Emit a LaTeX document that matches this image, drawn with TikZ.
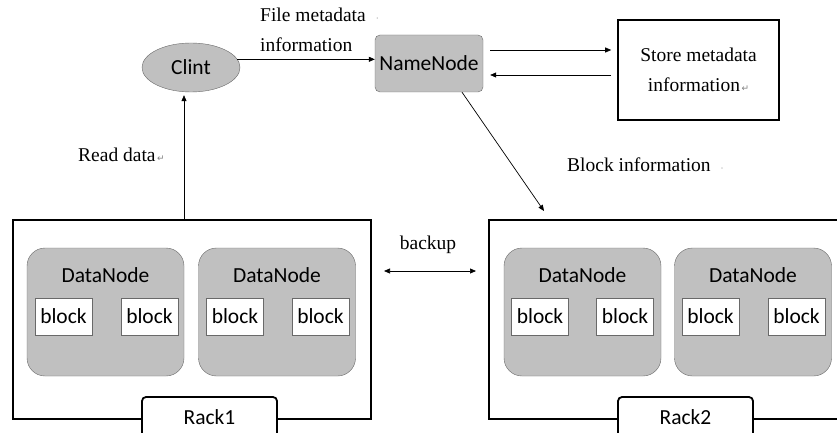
\documentclass[tikz,border=0pt]{standalone}
\usepackage{fontspec}
\setmainfont{Liberation Serif}
\newfontfamily\uifont{Carlito}
\newfontfamily\markfont{DejaVu Sans}
\usepackage{xcolor}
\usetikzlibrary{positioning,arrows.meta,calc,shapes.geometric}
\definecolor{boxgray}{RGB}{192,192,192}
\definecolor{edgegray}{RGB}{105,105,105}
\newcommand{\parmark}{{\markfont\fontsize{9}{9}\selectfont\color{gray}\,↵}}
\newcommand{\dotmark}{\hspace{10pt}{\color{gray}\fontsize{9}{9}\selectfont ·}}

\begin{document}
\begin{tikzpicture}[x=1pt, y=1pt,
  ui/.style={font=\uifont\fontsize{21.5}{21.5}\selectfont},
  lbl/.style={font=\fontsize{19.5}{30}\selectfont, inner sep=0pt},
  grayblob/.style={draw=edgegray, fill=boxgray, ui},
  dnode/.style={grayblob, rounded corners=18pt, minimum width=157pt, minimum height=128pt},
  blk/.style={draw=edgegray, fill=white, ui, minimum width=57pt, minimum height=37pt, inner sep=0pt},
  rack/.style={draw, line width=2pt, fill=white},
  racktag/.style={draw, line width=1.8pt, fill=white, rounded corners=4pt, ui, minimum width=135pt, minimum height=40pt},
  arr/.style={-{Triangle[length=6pt,width=5pt]}, line width=0.7pt},
  darr/.style={{Triangle[length=6pt,width=5pt]}-{Triangle[length=6pt,width=5pt]}, line width=0.7pt}]
  \useasboundingbox (0,0) rectangle (837,432);
  % top row
  \node[grayblob, ellipse, minimum width=98pt, minimum height=49pt, inner sep=0pt] (clint) at (191,364.5) {Clint};
  \node[grayblob, rounded corners=5pt, minimum width=108pt, minimum height=57pt, inner sep=0pt] (namenode) at (429,368.5) {NameNode};
  \node[draw, line width=1.6pt, minimum width=161pt, minimum height=100pt, align=center, lbl] (store) at (698.5,362) {Store metadata\\information\parmark};
  % racks
  \node[rack, minimum width=358pt, minimum height=199pt] (rack1) at (192,112.5) {};
  \node[rack, minimum width=358pt, minimum height=199pt] (rack2) at (668,112.5) {};
  \node[racktag] (tag1) at (209.5,15) {Rack1};
  \node[racktag] (tag2) at (685.5,15) {Rack2};
  \node[dnode] (dn1) at (105.5,120) {};
  \node[dnode] (dn2) at (277,120) {};
  \node[dnode] (dn3) at (582.5,120) {};
  \node[dnode] (dn4) at (753,120) {};
  \node[ui, below=16pt of dn1.north] (dn1cap) {DataNode};
  \node[ui, below=16pt of dn2.north] (dn2cap) {DataNode};
  \node[ui, below=16pt of dn3.north] (dn3cap) {DataNode};
  \node[ui, below=16pt of dn4.north] (dn4cap) {DataNode};
  \node[blk] (b11) at (63.5,115.5) {block};
  \node[blk] (b12) at (149.5,115.5) {block};
  \node[blk] (b21) at (235,115.5) {block};
  \node[blk] (b22) at (320.5,115.5) {block};
  \node[blk] (b31) at (540,115.5) {block};
  \node[blk] (b32) at (625,115.5) {block};
  \node[blk] (b41) at (710.5,115.5) {block};
  \node[blk] (b42) at (796.5,115.5) {block};
  % labels
  \node[lbl, align=left, anchor=west] (filemeta) at (260,402) {File metadata\dotmark\\information};
  \node[lbl, anchor=west] (readlbl) at (78,277) {Read data\parmark};
  \node[lbl, anchor=west] (blockinfo) at (567,267) {Block information\dotmark};
  \node[lbl] (backuplbl) at (428,187) {backup};
  % connectors
  \draw[arr] (clint.10) -- (clint.10 -| namenode.west);
  \draw[arr, shorten <=7pt, shorten >=6pt] ([yshift=13.5pt]namenode.east) -- ([yshift=13.5pt]namenode.east -| store.west);
  \draw[arr, shorten <=6pt, shorten >=7pt] ([yshift=-11.5pt]namenode.east -| store.west) -- ([yshift=-11.5pt]namenode.east);
  \draw[arr] ([xshift=33pt]namenode.south) -- ($(rack2.north west)+(56,8)$);
  \draw[arr, shorten >=3pt] ([xshift=-8pt]rack1.north) -- ([xshift=-8pt]rack1.north |- clint.south);
  \draw[darr, shorten <=12pt, shorten >=12pt] ([yshift=48.5pt]rack1.east) -- ([yshift=48.5pt]rack1.east -| rack2.west);
\end{tikzpicture}
\end{document}
